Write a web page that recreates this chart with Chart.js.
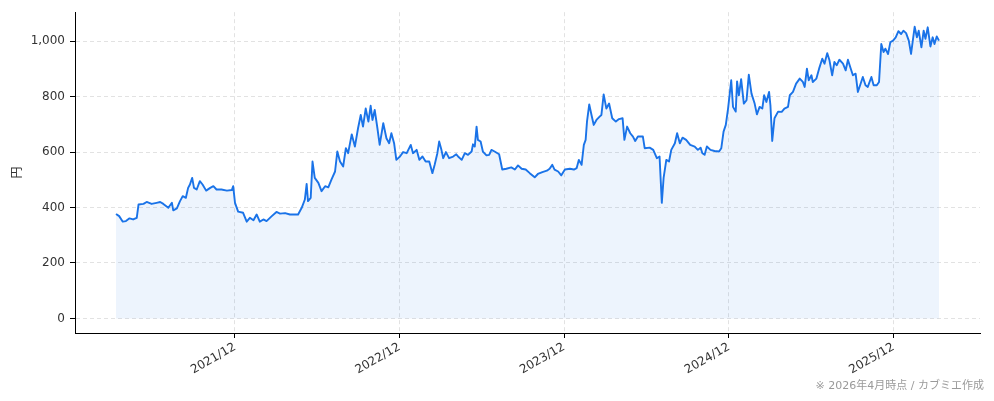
<!DOCTYPE html>
<html>
<head>
<meta charset="utf-8">
<script src="https://cdn.jsdelivr.net/npm/chart.js@4.4.1/dist/chart.umd.min.js"></script>
<style>
  html, body { margin: 0; padding: 0; background: #fff; }
  #wrap { position: relative; width: 994px; height: 401px; }
</style>
</head>
<body>
<div id="wrap"><canvas id="c" width="994" height="401"></canvas></div>
<script>
// Days since 2021-01-01
const days = [
  70,77,85,92,100,108,116,120,131,138,
  149,160,168,175,186,194,197,205,212,218,
  225,230,234,239,243,249,256,262,270,279,
  286,293,304,316,327,330,334,341,352,360,
  367,375,382,389,397,404,415,426,434,445,
  456,474,482,489,493,496,502,506,511,519,
  526,534,541,548,556,561,567,574,580,585,
  593,600,607,613,618,624,630,635,639,644,
  650,655,663,670,676,681,687,692,700,707,
  715,724,729,737,743,750,757,765,772,777,
  783,787,792,796,802,809,818,825,829,837,
  844,851,859,862,866,870,873,879,884,892,
  898,903,910,920,927,936,947,955,962,970,
  979,988,999,1006,1016,1026,1032,1038,1043,1051,
  1058,1066,1077,1086,1092,1097,1103,1108,1112,1115,
  1120,1125,1130,1136,1143,1147,1152,1158,1164,1171,
  1179,1186,1194,1198,1204,1211,1217,1222,1228,1239,
  1243,1254,1262,1270,1276,1281,1285,1291,1297,1302,
  1310,1315,1321,1327,1335,1344,1354,1361,1367,1371,
  1376,1381,1389,1398,1408,1413,1418,1423,1428,1435,
  1439,1445,1448,1452,1457,1463,1469,1474,1480,1487,
  1492,1498,1504,1508,1513,1519,1522,1526,1531,1539,
  1547,1553,1561,1565,1572,1579,1587,1594,1598,1603,
  1607,1613,1616,1624,1630,1637,1642,1648,1653,1659,
  1664,1669,1675,1683,1689,1694,1699,1705,1711,1716,
  1721,1727,1733,1738,1746,1751,1758,1763,1768,1773,
  1777,1783,1788,1794,1800,1806,1812,1817,1823,1829,
  1834,1842,1847,1851,1857,1862,1866,1871,1877,1882,
  1886,1891,1896
];
// Price (円)
const prices = [
  377,369,349,351,361,357,363,411,413,420,
  413,417,420,413,399,417,390,397,423,441,
  435,471,483,507,471,465,495,483,461,471,
  477,465,465,461,463,477,417,385,381,349,
  363,354,375,349,357,351,368,384,378,380,
  375,375,399,429,485,423,435,566,507,489,
  459,477,473,501,530,602,566,548,614,596,
  664,620,686,734,692,757,710,767,716,752,
  686,626,704,650,632,668,632,572,584,600,
  596,626,596,608,572,584,566,566,524,554,
  596,638,608,578,600,578,584,592,584,572,
  596,590,602,628,620,692,644,638,602,588,
  590,608,602,592,537,540,545,537,552,540,
  537,524,509,521,528,533,540,554,537,530,
  516,537,540,537,542,572,554,626,644,710,
  772,734,698,716,728,734,808,757,775,722,
  710,719,722,644,692,668,656,640,656,656,
  614,616,608,578,584,417,507,572,566,608,
  632,668,632,652,644,626,620,608,616,596,
  590,620,608,604,602,614,674,698,757,859,
  763,746,855,805,863,775,787,879,811,775,
  736,763,757,805,781,817,769,640,722,746,
  745,757,763,805,817,847,865,853,835,901,
  859,877,853,865,901,937,919,957,931,877,
  925,913,933,919,895,933,907,877,883,817,
  841,871,841,835,871,841,841,853,990,961,
  973,954,996,1002,1014,1036,1026,1038,1029,1002,
  954,1052,1014,1038,978,1038,1009,1050,981,1014,
  990,1017,1002
];
const xTickDays = [334, 699, 1064, 1430, 1795];
const xTickLabels = ['2021/12', '2022/12', '2023/12', '2024/12', '2025/12'];
const yTicks = [0, 200, 400, 600, 800, 1000];
const yLabel = '円';
const footnote = '※ 2026年4月時点 / カブミエ作成';

const FONT = '"DejaVu Sans", "Noto Sans CJK JP", sans-serif';
const CJK_FONT = '"Noto Sans CJK JP", "DejaVu Sans", sans-serif';

const points = days.map((d, i) => ({ x: d, y: prices[i] }));

const footnotePlugin = {
  id: 'footnote',
  afterDraw(chart) {
    const ctx = chart.ctx;
    ctx.save();
    ctx.font = '11px "DejaVu Sans", "Noto Sans CJK JP", sans-serif';
    ctx.fillStyle = '#9a9a9a';
    ctx.textAlign = 'right';
    ctx.textBaseline = 'alphabetic';
    ctx.fillText(footnote, 984, 389);
    ctx.restore();
  }
};

const gridOpts = {
  color: '#e2e2e2',
  lineWidth: 1,
  drawTicks: true,
  tickLength: 5,
  tickColor: '#000',
  tickBorderDash: []
};

new Chart(document.getElementById('c'), {
  type: 'line',
  data: {
    datasets: [{
      data: points,
      borderColor: '#1a73e8',
      backgroundColor: 'rgba(26,115,232,0.08)',
      borderWidth: 1.9,
      pointRadius: 0,
      tension: 0,
      fill: 'origin',
      borderJoinStyle: 'round'
    }]
  },
  options: {
    responsive: false,
    animation: false,
    devicePixelRatio: 1,
    layout: { padding: { top: 10, right: 14, left: 0, bottom: 0 } },
    plugins: {
      legend: { display: false },
      tooltip: { enabled: false }
    },
    scales: {
      x: {
        type: 'linear',
        min: -21,
        max: 1987,
        afterBuildTicks(scale) {
          scale.ticks = xTickDays.map(v => ({ value: v }));
        },
        afterFit(scale) { scale.height = 68; },
        ticks: {
          autoSkip: false,
          minRotation: 30,
          maxRotation: 30,
          padding: 2,
          color: '#333',
          font: { family: FONT, size: 12 },
          callback(value) {
            const i = xTickDays.indexOf(value);
            return i >= 0 ? xTickLabels[i] : '';
          }
        },
        grid: gridOpts,
        border: { display: true, color: '#000', width: 1, dash: [4, 3] }
      },
      y: {
        type: 'linear',
        min: -52.6,
        max: 1104.6,
        afterBuildTicks(scale) {
          scale.ticks = yTicks.map(v => ({ value: v }));
        },
        afterFit(scale) { scale.width = 75; },
        ticks: {
          padding: 5,
          color: '#333',
          font: { family: FONT, size: 12 },
          callback(value) { return value.toLocaleString('en-US'); }
        },
        grid: gridOpts,
        border: { display: true, color: '#000', width: 1, dash: [4, 3] },
        title: {
          display: true,
          text: yLabel,
          color: '#333',
          font: { family: CJK_FONT, size: 12 },
          padding: { top: 9, bottom: 0 }
        }
      }
    }
  },
  plugins: [footnotePlugin]
});
</script>
</body>
</html>
